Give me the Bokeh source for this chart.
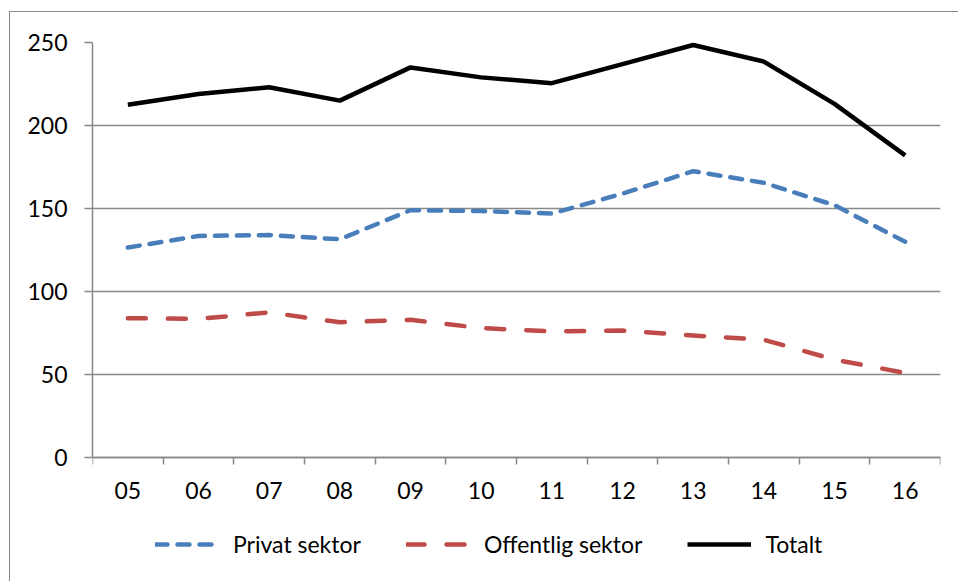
from bokeh.plotting import figure
from bokeh.models import (FixedTicker, Legend, LegendItem, Range1d, InlineStyleSheet,
                          LinearAxis)
from bokeh.embed import file_html
from bokeh.resources import INLINE

years = ["05", "06", "07", "08", "09", "10", "11", "12", "13", "14", "15", "16"]
privat = [126.5, 133.5, 134, 131.5, 149, 148.5, 147, 159, 172.5, 165.5, 152, 130]
offentlig = [84, 83.5, 87.5, 81.5, 83, 78, 76, 76.5, 73.5, 71, 59, 51]
totalt = [212.5, 219, 223, 215, 235, 229, 225.5, 237, 248.5, 238.5, 213, 182]
y_ticks = [0, 50, 100, 150, 200, 250]

FONT = "Lato"
FSIZE = "23px"
GRAY = "#898989"

xs = [i + 0.5 for i in range(len(years))]

border_css = InlineStyleSheet(css="""
:host::after {
  content: "";
  position: absolute;
  left: 9px; top: 11px; right: 0; bottom: 0;
  border-left: 1.5px solid #898989;
  border-top: 1.5px solid #898989;
  pointer-events: none;
  z-index: 10;
}
""")

# frame extends below the value axis to hold tick labels and legend
p = figure(width=958, height=581, output_backend="svg", toolbar_location=None,
           x_range=Range1d(0, len(years)), y_range=Range1d(-74.6, 250),
           x_axis_location=None,
           min_border_left=92, min_border_right=18, min_border_top=42,
           min_border_bottom=0, stylesheets=[border_css])
p.outline_line_color = None
p.background_fill_color = "white"
p.border_fill_color = "white"

r_priv = p.line(xs, privat, line_color="#4a7ebb", line_width=4.5,
                line_dash="12 10", line_cap="round", line_join="round")
r_off = p.line(xs, offentlig, line_color="#be4b48", line_width=4.5,
               line_dash="18 22", line_cap="round", line_join="round")
r_tot = p.line(xs, totalt, line_color="black", line_width=4.5,
               line_join="round")

# x axis drawn at y = 0
xaxis = LinearAxis(fixed_location=0)
xaxis.ticker = FixedTicker(ticks=xs, minor_ticks=list(range(len(years) + 1)))
xaxis.major_label_overrides = {x: y for x, y in zip(xs, years)}
xaxis.major_tick_line_color = None
xaxis.minor_tick_line_color = GRAY
xaxis.minor_tick_line_width = 1.5
xaxis.minor_tick_out = 7
xaxis.minor_tick_in = 0
xaxis.axis_line_color = GRAY
xaxis.axis_line_width = 1.5
xaxis.major_label_standoff = 17
xaxis.major_label_text_font = FONT
xaxis.major_label_text_font_size = FSIZE
xaxis.major_label_text_color = "black"
p.add_layout(xaxis, "below")
p.xgrid.grid_line_color = None

# y axis
p.yaxis.ticker = FixedTicker(ticks=y_ticks)
p.yaxis.bounds = (0, 250)
p.yaxis.major_tick_line_color = GRAY
p.yaxis.major_tick_line_width = 1.5
p.yaxis.major_tick_out = 8
p.yaxis.major_tick_in = 0
p.yaxis.minor_tick_line_color = None
p.yaxis.axis_line_color = GRAY
p.yaxis.axis_line_width = 1.5
p.yaxis.major_label_standoff = 17
p.yaxis.major_label_text_font = FONT
p.yaxis.major_label_text_font_size = FSIZE
p.yaxis.major_label_text_color = "black"
p.ygrid.grid_line_color = GRAY
p.ygrid.grid_line_width = 1.5
p.ygrid.ticker = FixedTicker(ticks=y_ticks)

legend = Legend(items=[
    LegendItem(label="Privat sektor", renderers=[r_priv]),
    LegendItem(label="Offentlig sektor", renderers=[r_off]),
    LegendItem(label="Totalt", renderers=[r_tot]),
], orientation="horizontal", location=(63, 23))
legend.border_line_color = None
legend.background_fill_alpha = 0
legend.glyph_width = 64
legend.glyph_height = 20
legend.label_standoff = 14
legend.spacing = 45
legend.padding = 0
legend.margin = 0
legend.label_text_font = FONT
legend.label_text_font_size = FSIZE
legend.label_text_color = "black"
p.add_layout(legend)

open("out.html", "w").write(file_html(p, INLINE))
